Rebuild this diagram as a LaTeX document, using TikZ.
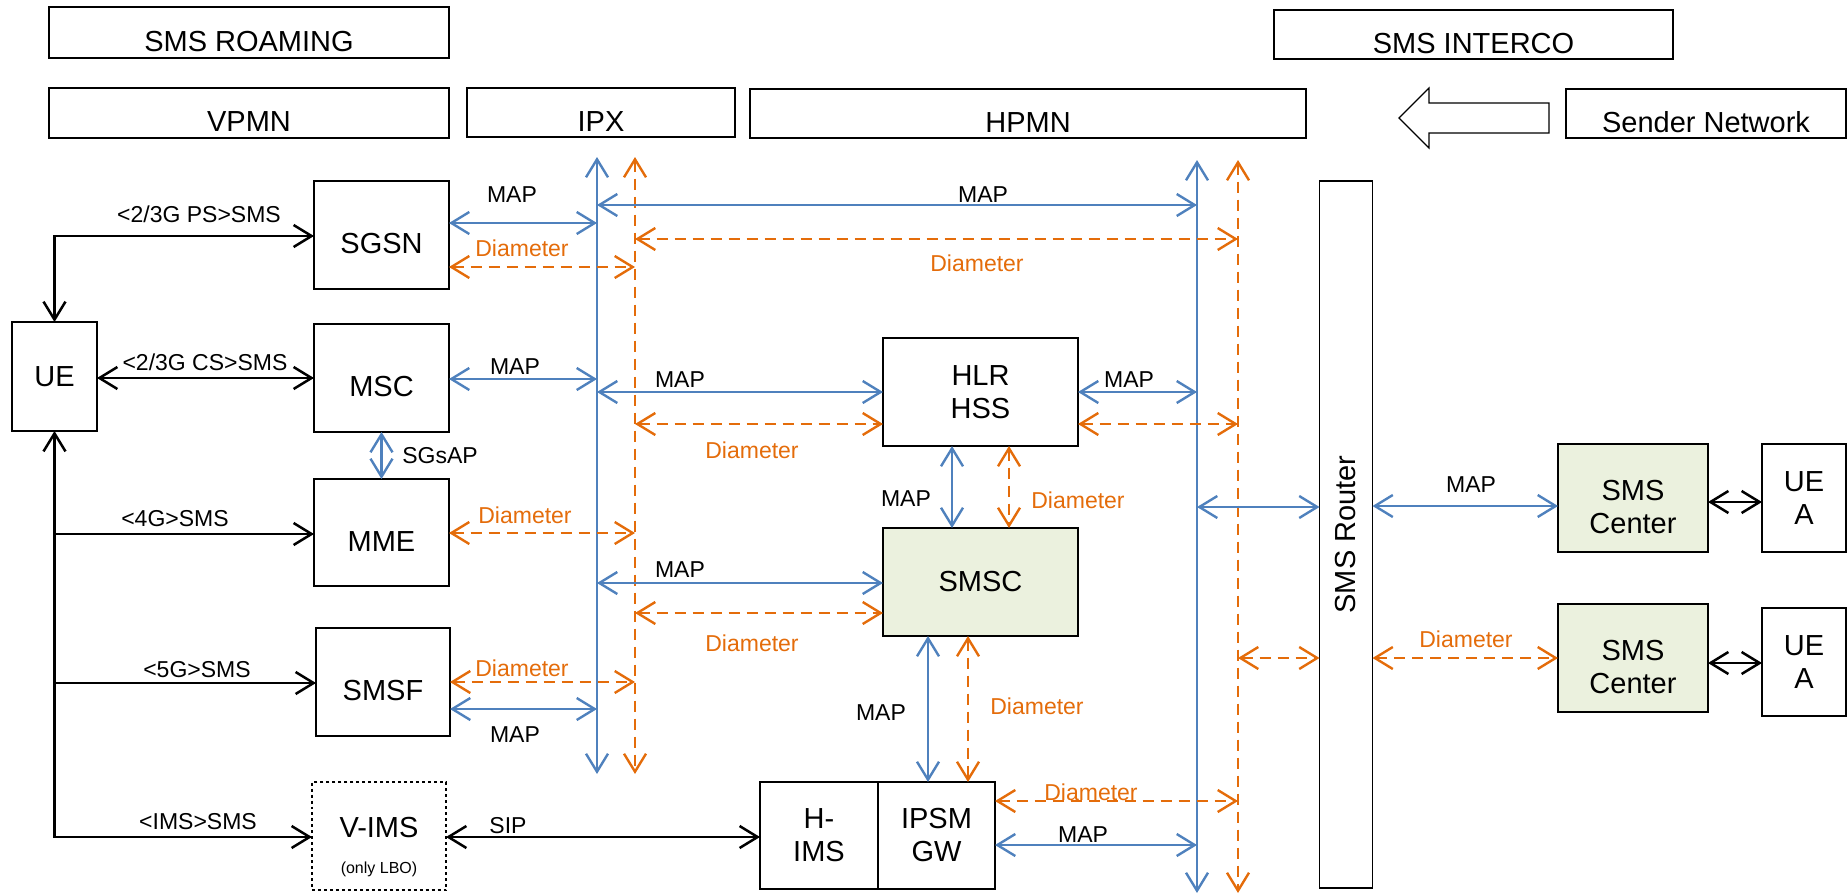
\documentclass[tikz,border=0pt]{standalone}
\usepackage{fontspec}
\setmainfont{Liberation Sans}
\usepackage{graphicx}
\usepackage{tikz}
\usetikzlibrary{arrows.meta}
\definecolor{mapblue}{RGB}{79,129,189}
\definecolor{diaorange}{RGB}{228,108,10}
\definecolor{centergreen}{RGB}{235,241,222}

\begin{document}
\begin{tikzpicture}[x=1bp,y=-1bp,inner sep=0pt,outer sep=0pt,
  >={Straight Barb[length=18bp,width=22bp]},
  hdr/.style={draw,line width=1.6bp,font=\fontsize{29bp}{33bp}\selectfont,text height=37bp,text depth=0pt},
  nbox/.style={draw,line width=1.6bp,font=\fontsize{29bp}{33bp}\selectfont,align=center},
  low/.style={text height=37bp,text depth=0pt},
  lbl/.style={anchor=base,font=\fontsize{23bp}{27bp}\selectfont},
  dlbl/.style={lbl,text=diaorange},
  blk/.style={draw=black,line width=2.5bp},
  mapln/.style={draw=mapblue,line width=2.4bp},
  dialn/.style={draw=diaorange,line width=2.4bp,dash pattern=on 11bp off 7bp}]
  \useasboundingbox (0,0) rectangle (1847,894);
  % headers
  \node[hdr,minimum width=400bp,minimum height=51bp] (roaming) at (249,32.5) {SMS ROAMING};
  \node[hdr,minimum width=399bp,minimum height=49bp] (interco) at (1473.5,34.5) {SMS INTERCO};
  \node[hdr,minimum width=400bp,minimum height=50bp] (vpmn) at (249,113) {VPMN};
  \node[hdr,minimum width=268bp,minimum height=49bp] (ipx) at (601,112.5) {IPX};
  \node[hdr,minimum width=556bp,minimum height=49bp] (hpmn) at (1028,113.5) {HPMN};
  \node[hdr,minimum width=280bp,minimum height=49bp] (sender) at (1706,113.5) {Sender Network};
  \draw[line width=1.2bp,fill=white] (1399,118) -- (1429,88) -- (1429,103) -- (1549,103)
    -- (1549,133) -- (1429,133) -- (1429,148) -- cycle;
  % visited network
  \node[nbox,minimum width=85bp,minimum height=109bp] (ue) at (54.5,376.5) {UE};
  \node[nbox,low,minimum width=135bp,minimum height=108bp] (sgsn) at (381.5,235) {SGSN};
  \node[nbox,low,minimum width=135bp,minimum height=108bp] (msc) at (381.5,378) {MSC};
  \node[nbox,low,minimum width=135bp,minimum height=107bp] (mme) at (381.5,532.5) {MME};
  \node[nbox,low,minimum width=134bp,minimum height=108bp] (smsf) at (383,682) {SMSF};
  \node[nbox,dashed,line width=1.2bp,minimum width=134bp,minimum height=108bp,text height=21bp,text depth=19bp] (vims) at (379,836) {V-IMS};
  \node[anchor=base,font=\fontsize{16bp}{19bp}\selectfont] (vimsnote) at (379,873) {(only LBO)};
  % home network
  \node[nbox,minimum width=195bp,minimum height=108bp] (hlr) at (980.5,392) {HLR\\HSS};
  \node[nbox,fill=centergreen,minimum width=195bp,minimum height=108bp] (smsc) at (980.5,582) {SMSC};
  \node[nbox,minimum width=118bp,minimum height=107bp] (hims) at (819,835.5) {H-\\IMS};
  \node[nbox,minimum width=117bp,minimum height=107bp] (ipsm) at (936.5,835.5) {IPSM\\GW};
  % interconnect
  \node[nbox,minimum width=53bp,minimum height=707bp] (router) at (1346,534.5) {\rotatebox{90}{SMS Router}};
  \node[nbox,fill=centergreen,minimum width=150bp,minimum height=108bp,text height=70bp,text depth=0pt] (smsca) at (1633,498) {SMS\\Center};
  \node[nbox,fill=centergreen,minimum width=150bp,minimum height=108bp,text height=70bp,text depth=0pt] (smscb) at (1633,658) {SMS\\Center};
  \node[nbox,minimum width=84bp,minimum height=108bp] (uea) at (1804,498) {UE\\A};
  \node[nbox,minimum width=84bp,minimum height=108bp] (ueb) at (1804,662) {UE\\A};
  % buses
  \coordinate (ipxmap) at (597,157);
  \coordinate (ipxmapend) at (597,774);
  \coordinate (ipxdia) at (635,157);
  \coordinate (ipxdiaend) at (635,774);
  \coordinate (hpmap) at (1197,160);
  \coordinate (hpmapend) at (1197,893);
  \coordinate (hpdia) at (1238,160);
  \coordinate (hpdiaend) at (1238,893);
  \draw[mapln,<->] (ipxmap) -- (ipxmapend);
  \draw[dialn,<->] (ipxdia) -- (ipxdiaend);
  \draw[mapln,<->] (hpmap) -- (hpmapend);
  \draw[dialn,<->] (hpdia) -- (hpdiaend);
  % UE access
  \draw[blk,<->] (ue.north) |- (sgsn.west |- 0,236);
  \draw[blk,<->] (ue.east |- 0,378) -- (msc.west |- 0,378);
  \draw[blk,<->] (ue.south) |- (vims.west |- 0,837);
  \draw[blk,->] (ue.south |- 0,534) -- (mme.west |- 0,534);
  \draw[blk,->] (ue.south |- 0,683) -- (smsf.west |- 0,683);
  \draw[blk,<->] (vims.east |- 0,837) -- (hims.west |- 0,837);
  \draw[mapln,<->] (msc.south) -- (mme.north);
  % to IPX
  \draw[mapln,<->] (sgsn.east |- 0,223) -- (ipxmap |- 0,223);
  \draw[dialn,<->] (sgsn.east |- 0,267) -- (ipxdia |- 0,267);
  \draw[mapln,<->] (msc.east |- 0,379) -- (ipxmap |- 0,379);
  \draw[dialn,<->] (mme.east |- 0,533) -- (ipxdia |- 0,533);
  \draw[dialn,<->] (smsf.east |- 0,682) -- (ipxdia |- 0,682);
  \draw[mapln,<->] (smsf.east |- 0,709) -- (ipxmap |- 0,709);
  % IPX to HPMN
  \draw[mapln,<->] (ipxmap |- 0,205) -- (hpmap |- 0,205);
  \draw[dialn,<->] (ipxdia |- 0,239) -- (hpdia |- 0,239);
  \draw[mapln,<->] (ipxmap |- 0,392) -- (hlr.west |- 0,392);
  \draw[dialn,<->] (ipxdia |- 0,424) -- (hlr.west |- 0,424);
  \draw[mapln,<->] (ipxmap |- 0,583) -- (smsc.west |- 0,583);
  \draw[dialn,<->] (ipxdia |- 0,613) -- (smsc.west |- 0,613);
  \draw[mapln,<->] (hlr.east |- 0,392) -- (hpmap |- 0,392);
  \draw[dialn,<->] (hlr.east |- 0,424) -- (hpdia |- 0,424);
  \draw[mapln,<->] (hlr.south -| 952,0) -- (smsc.north -| 952,0);
  \draw[dialn,<->] (hlr.south -| 1009,0) -- (smsc.north -| 1009,0);
  \draw[mapln,<->] (smsc.south -| 928,0) -- (ipsm.north -| 928,0);
  \draw[dialn,<->] (smsc.south -| 968,0) -- (ipsm.north -| 968,0);
  \draw[dialn,<->] (ipsm.east |- 0,801) -- (hpdia |- 0,801);
  \draw[mapln,<->] (ipsm.east |- 0,845) -- (hpmap |- 0,845);
  % router side
  \draw[mapln,<->] (hpmap |- 0,507) -- (router.west |- 0,507);
  \draw[dialn,<->] (hpdia |- 0,658) -- (router.west |- 0,658);
  \draw[mapln,<->] (router.east |- 0,506) -- (smsca.west |- 0,506);
  \draw[dialn,<->] (router.east |- 0,658) -- (smscb.west |- 0,658);
  \draw[blk,<->] (smsca.east |- 0,502) -- (uea.west |- 0,502);
  \draw[blk,<->] (smscb.east |- 0,663) -- (ueb.west |- 0,663);
  % labels
  \node[lbl] (lps) at (199,222) {<2/3G PS>SMS};
  \node[lbl] (lcs) at (205,370) {<2/3G CS>SMS};
  \node[lbl] (l4g) at (175,526) {<4G>SMS};
  \node[lbl] (l5g) at (197,677) {<5G>SMS};
  \node[lbl] (lims) at (198,829) {<IMS>SMS};
  \node[lbl] (lsip) at (508,833) {SIP};
  \node[lbl] (lsgsap) at (440,463) {SGsAP};
  \node[lbl] (lmap1) at (512,202) {MAP};
  \node[dlbl] (ldia1) at (522,256) {Diameter};
  \node[lbl] (lmap2) at (983,202) {MAP};
  \node[dlbl] (ldia2) at (977,271) {Diameter};
  \node[lbl] (lmap3) at (515,374) {MAP};
  \node[lbl] (lmap4) at (680,387) {MAP};
  \node[dlbl] (ldia4) at (752,458) {Diameter};
  \node[lbl] (lmap5) at (1129,387) {MAP};
  \node[dlbl] (ldia3) at (525,523) {Diameter};
  \node[lbl] (lmap6) at (906,506) {MAP};
  \node[dlbl] (ldia6) at (1078,508) {Diameter};
  \node[lbl] (lmap7) at (680,577) {MAP};
  \node[dlbl] (ldia7) at (752,651) {Diameter};
  \node[dlbl] (ldia8) at (522,676) {Diameter};
  \node[lbl] (lmap8) at (515,742) {MAP};
  \node[lbl] (lmap9) at (881,720) {MAP};
  \node[dlbl] (ldia9) at (1037,714) {Diameter};
  \node[dlbl] (ldia10) at (1091,800) {Diameter};
  \node[lbl] (lmap10) at (1083,842) {MAP};
  \node[lbl] (lmap11) at (1471,492) {MAP};
  \node[dlbl] (ldia11) at (1466,647) {Diameter};
\end{tikzpicture}
\end{document}
